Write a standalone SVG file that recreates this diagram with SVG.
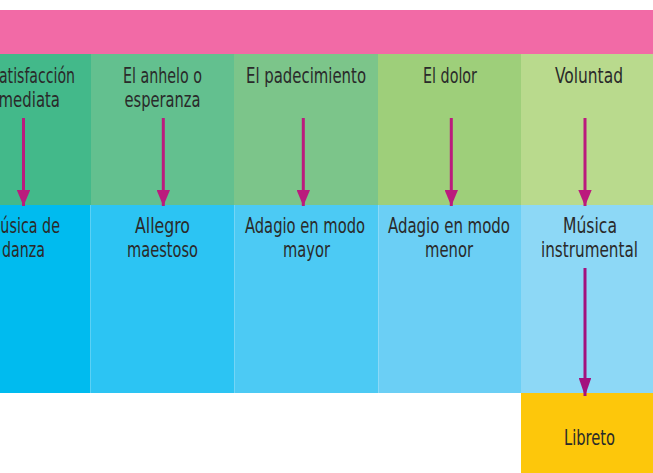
<svg xmlns="http://www.w3.org/2000/svg" width="653" height="473" viewBox="0 0 653 473">
<style>
text{font-family:"Liberation Sans Narrow","DejaVu Sans Condensed","Liberation Sans",Arial,sans-serif;font-size:20.5px;fill:#2a2a2a;text-anchor:middle;}
.t0{text-anchor:start;}
.sep{stroke:#ffffff;stroke-opacity:0.22;stroke-width:1;}
.arr{stroke:#bb1b7d;stroke-width:3;fill:none;}
.arr2{stroke:#a3117e;stroke-width:3;fill:none;}
</style>
<defs>
<marker id="ah" markerUnits="userSpaceOnUse" markerWidth="16" markerHeight="13.4" refX="16" refY="6.7" orient="auto" viewBox="0 0 16 13.4">
<path d="M0,0 L16,6.7 L0,13.4 Z" fill="#bb1b7d"/>
</marker>
<marker id="ah2" markerUnits="userSpaceOnUse" markerWidth="18" markerHeight="12.6" refX="18" refY="6.3" orient="auto" viewBox="0 0 18 12.6">
<path d="M0,0 L18,6.3 L0,12.6 Z" fill="#a3117e"/>
</marker>
</defs>
<rect id="header" x="0" y="10" width="653" height="44" fill="#f26aa6"/>
<g id="n-satisfaccion">
<rect x="0" y="54" width="91" height="151" fill="#43b98a"/>
<text class="t0" x="-10" y="82.5" textLength="85" lengthAdjust="spacingAndGlyphs">Satisfacción</text>
<text class="t0" x="-15" y="106.5" textLength="75" lengthAdjust="spacingAndGlyphs">inmediata</text>
</g>
<g id="n-anhelo">
<rect x="91" y="54" width="143" height="151" fill="#63c08f"/>
<text x="162.5" y="82.5" textLength="79" lengthAdjust="spacingAndGlyphs">El anhelo o</text>
<text x="162.5" y="106.5" textLength="76" lengthAdjust="spacingAndGlyphs">esperanza</text>
</g>
<g id="n-padecimiento">
<rect x="234" y="54" width="144" height="151" fill="#7cc58a"/>
<text x="306" y="82.5" textLength="120" lengthAdjust="spacingAndGlyphs">El padecimiento</text>
</g>
<g id="n-dolor">
<rect x="378" y="54" width="143" height="151" fill="#9ecf7a"/>
<text x="450" y="82.5" textLength="54" lengthAdjust="spacingAndGlyphs">El dolor</text>
</g>
<g id="n-voluntad">
<rect x="521" y="54" width="132" height="151" fill="#b9da8d"/>
<text x="589" y="82.5" textLength="68" lengthAdjust="spacingAndGlyphs">Voluntad</text>
</g>
<g id="n-danza">
<rect x="0" y="205" width="90" height="188" fill="#00bbef"/>
<text x="24" y="233" textLength="72" lengthAdjust="spacingAndGlyphs">Música de</text>
<text x="23.5" y="257" textLength="43" lengthAdjust="spacingAndGlyphs">danza</text>
</g>
<g id="n-allegro">
<rect x="90" y="205" width="144" height="188" fill="#2cc4f3"/>
<text x="162.5" y="233" textLength="55" lengthAdjust="spacingAndGlyphs">Allegro</text>
<text x="162.5" y="257" textLength="71" lengthAdjust="spacingAndGlyphs">maestoso</text>
</g>
<g id="n-mayor">
<rect x="234" y="205" width="144" height="188" fill="#4ccaf4"/>
<text x="305" y="233" textLength="120" lengthAdjust="spacingAndGlyphs">Adagio en modo</text>
<text x="306.5" y="257" textLength="47" lengthAdjust="spacingAndGlyphs">mayor</text>
</g>
<g id="n-menor">
<rect x="378" y="205" width="143" height="188" fill="#6bcff5"/>
<text x="449" y="233" textLength="122" lengthAdjust="spacingAndGlyphs">Adagio en modo</text>
<text x="449" y="257" textLength="48" lengthAdjust="spacingAndGlyphs">menor</text>
</g>
<g id="n-instrumental">
<rect x="521" y="205" width="132" height="188" fill="#8dd8f6"/>
<text x="590" y="233" textLength="54" lengthAdjust="spacingAndGlyphs">Música</text>
<text x="589.5" y="257" textLength="97" lengthAdjust="spacingAndGlyphs">instrumental</text>
</g>
<g id="separators">
<line class="sep" x1="90.5" y1="205" x2="90.5" y2="393"/>
<line class="sep" x1="234.5" y1="205" x2="234.5" y2="393"/>
<line class="sep" x1="378.5" y1="205" x2="378.5" y2="393"/>
</g>
<g id="n-libreto">
<rect x="521" y="393" width="132" height="80" fill="#fdc70b"/>
<text x="589.5" y="445" textLength="51" lengthAdjust="spacingAndGlyphs">Libreto</text>
</g>
<g id="connectors">
<line class="arr" x1="23.5" y1="118" x2="23.5" y2="206" marker-end="url(#ah)"/>
<line class="arr" x1="163.3" y1="118" x2="163.3" y2="206" marker-end="url(#ah)"/>
<line class="arr" x1="303.3" y1="118" x2="303.3" y2="206" marker-end="url(#ah)"/>
<line class="arr" x1="451.3" y1="118" x2="451.3" y2="206" marker-end="url(#ah)"/>
<line class="arr" x1="585" y1="118" x2="585" y2="206" marker-end="url(#ah)"/>
<line class="arr2" x1="585" y1="268" x2="585" y2="396" marker-end="url(#ah2)"/>
</g>
</svg>
